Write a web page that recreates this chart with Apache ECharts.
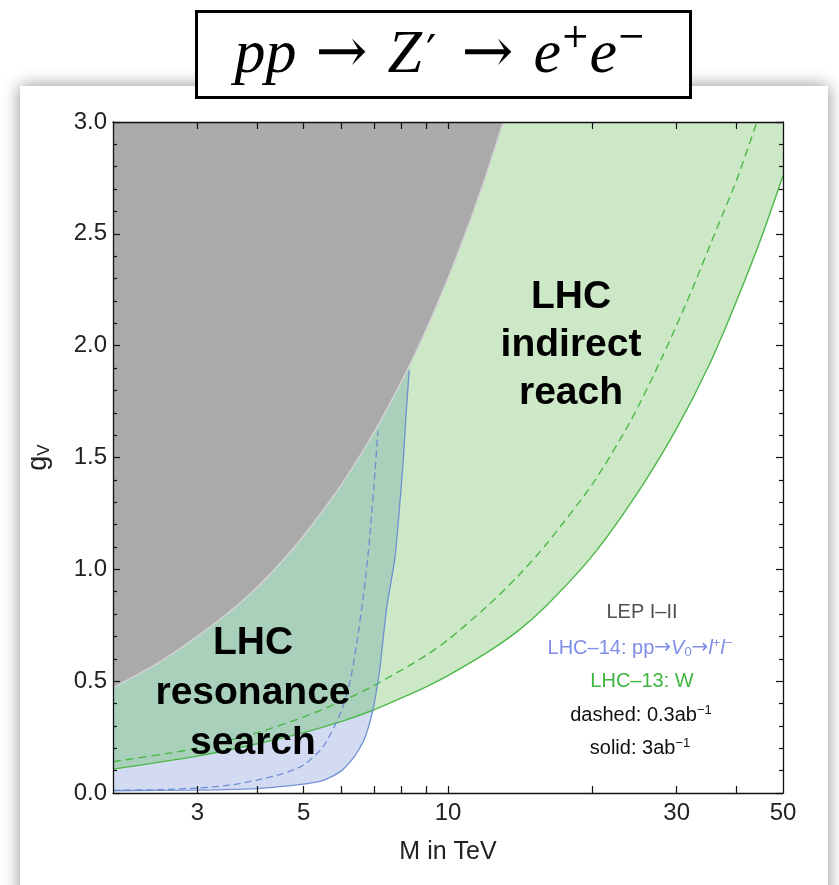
<!DOCTYPE html>
<html><head><meta charset="utf-8">
<script src="https://cdn.jsdelivr.net/npm/echarts@6/dist/echarts.min.js"></script>
<style>html,body{margin:0;padding:0;background:#fff;}#c{width:839px;height:885px;}</style>
</head><body><div id="c"></div>
<script>
// ---- tick labels ----
const xTickLabels = [3, 5, 10, 30, 50];
const xTickMarks = [3, 4, 5, 6, 7, 8, 9, 10, 20, 30, 40];
const yMin = 0, yMax = 3, yStep = 0.5;
const xMin = 2, xMax = 50;

// ---- LEP I-II bound (gray, excluded above) ----
const lepM = [2, 2.5, 3, 3.5, 4, 4.5, 5, 6, 7, 8, 9, 10, 11, 12, 13, 13.05];
const lepG = [0.47, 0.585, 0.70, 0.81, 0.92, 1.035, 1.15, 1.38, 1.61, 1.84, 2.07, 2.30, 2.53, 2.76, 2.99, 3.0];

// ---- LHC-13 W (green), solid 3/ab and dashed 0.3/ab ----
const wSolidM = [2, 3, 4, 5, 6, 6.97, 8, 9, 10, 12, 14, 16, 20, 25, 30, 35, 40, 45, 50];
const wSolidG = [0.107, 0.165, 0.22, 0.27, 0.32, 0.37, 0.425, 0.475, 0.525, 0.625, 0.725, 0.835, 1.06, 1.35, 1.63, 1.91, 2.20, 2.48, 2.76];
const wDashM = [2, 3, 4, 5, 6, 7, 8, 9, 10, 12, 14, 16, 20, 24, 28, 32, 36, 40, 44.1];
const wDashG = [0.14, 0.20, 0.27, 0.34, 0.41, 0.48, 0.55, 0.615, 0.685, 0.83, 0.97, 1.11, 1.38, 1.66, 1.95, 2.23, 2.50, 2.74, 3.0];

// ---- LHC-14 pp -> V0 -> l+l- (blue) ----
const v0SolidM = [2, 3, 4, 4.7, 5.2, 5.55, 6.0, 6.3, 6.5, 6.72, 6.97, 7.2, 7.45, 7.75, 7.88, 8.05, 8.18, 8.3];
const v0SolidG = [0.01, 0.013, 0.02, 0.033, 0.045, 0.06, 0.1, 0.148, 0.19, 0.25, 0.37, 0.55, 0.83, 1.05, 1.22, 1.46, 1.70, 1.89];
const v0DashM = [2, 2.5, 3, 3.5, 4, 4.5, 5, 5.5, 6, 6.25, 6.45, 6.65, 6.85, 7.05, 7.14];
const v0DashG = [0.012, 0.015, 0.022, 0.035, 0.058, 0.085, 0.125, 0.21, 0.37, 0.5, 0.67, 0.87, 1.12, 1.45, 1.62];

// mass where the blue solid curve crosses the green solid curve
const crossM = 6.97;

const C = {
  gray: '#aaaaaa', grayEdge: '#d2d2d2', lgreen: '#cde8c6', teal: '#a8d0bb', lav: '#d3dbf2',
  green: '#4cb848', blue: '#6688d2', axis: '#111', label: '#222'
};
const SANS = 'Liberation Sans, Arial, Helvetica, sans-serif';

function pairs(m, g) { return m.map((v, i) => [v, g[i]]); }

const base = { type: 'line', xAxisIndex: 0, yAxisIndex: 0, showSymbol: false, symbol: 'none',
  silent: true, animation: false, clip: true, smooth: 0.25 };
const noLine = { width: 0, opacity: 0 };

const series = [
  Object.assign({}, base, { name: 'lhc14 region', data: pairs(v0SolidM, v0SolidG), lineStyle: noLine,
    areaStyle: { origin: 'end', color: C.lav, opacity: 1 } }),
  Object.assign({}, base, { name: 'lhc13 region', data: pairs(wSolidM, wSolidG), lineStyle: noLine,
    areaStyle: { origin: 'end', color: C.lgreen, opacity: 1 } }),
  Object.assign({}, base, { name: 'overlap a', data: pairs(wSolidM, wSolidG).filter(p => p[0] <= crossM), lineStyle: noLine,
    areaStyle: { origin: 'end', color: C.teal, opacity: 1 } }),
  Object.assign({}, base, { name: 'overlap b', data: pairs(v0SolidM, v0SolidG).filter(p => p[0] >= crossM), lineStyle: noLine,
    areaStyle: { origin: 'end', color: C.teal, opacity: 1 } }),
  Object.assign({}, base, { name: 'LEP', data: pairs(lepM, lepG), lineStyle: { color: C.grayEdge, width: 1.6 },
    areaStyle: { origin: 'end', color: C.gray, opacity: 1 } }),
  Object.assign({}, base, { name: 'W dashed', data: pairs(wDashM, wDashG), lineStyle: { color: C.green, width: 1.4, type: [8, 5] } }),
  Object.assign({}, base, { name: 'W solid', data: pairs(wSolidM, wSolidG), lineStyle: { color: C.green, width: 1.4 } }),
  Object.assign({}, base, { name: 'V0 dashed', data: pairs(v0DashM, v0DashG), lineStyle: { color: C.blue, width: 1.3, type: [7, 4], opacity: 0.9 } }),
  Object.assign({}, base, { name: 'V0 solid', data: pairs(v0SolidM, v0SolidG), lineStyle: { color: C.blue, width: 1.3, opacity: 0.9 } })
];

function xAxisDef(pos, labels) {
  return {
    type: 'log', logBase: 10, min: xMin, max: xMax, position: pos, z: 10,
    axisLine: { show: true, onZero: false, lineStyle: { color: C.axis, width: 1.3 } },
    axisTick: { show: true, inside: true, length: 7, customValues: xTickMarks, lineStyle: { color: C.axis, width: 1.2 } },
    minorTick: { show: false },
    axisLabel: { show: labels, customValues: xTickLabels, margin: 8, fontSize: 24, color: C.label, fontFamily: SANS },
    splitLine: { show: false }, minorSplitLine: { show: false },
    name: labels ? 'M in TeV' : '', nameLocation: 'middle', nameGap: 47,
    nameTextStyle: { fontSize: 25, color: C.label, fontFamily: SANS }
  };
}
function yAxisDef(pos, labels) {
  return {
    type: 'value', min: yMin, max: yMax, interval: yStep, position: pos, z: 10,
    axisLine: { show: true, onZero: false, lineStyle: { color: C.axis, width: 1.3 } },
    axisTick: { show: true, inside: true, length: 7, lineStyle: { color: C.axis, width: 1.2 } },
    minorTick: { show: true, splitNumber: 5, length: 4, lineStyle: { color: C.axis, width: 1.2 } },
    axisLabel: { show: labels, margin: 6, fontSize: 24, color: C.label, fontFamily: SANS, formatter: v => v.toFixed(1) },
    splitLine: { show: false }, minorSplitLine: { show: false },
    name: labels ? '{g|g}{v|V}' : '', nameLocation: 'middle', nameRotate: 90, nameGap: 60,
    nameTextStyle: { rich: {
      g: { fontSize: 27, color: C.label, fontFamily: SANS, lineHeight: 28, verticalAlign: 'middle' },
      v: { fontSize: 17, color: C.label, fontFamily: SANS, lineHeight: 12, verticalAlign: 'bottom' } } }
  };
}

const serif = 'Liberation Serif, DejaVu Serif, serif';
const graphic = [
  { type: 'rect', z: -1, silent: true, shape: { x: 20, y: 86, width: 808, height: 830 },
    style: { fill: '#fff', shadowBlur: 16, shadowColor: 'rgba(0,0,0,0.45)' } },
  { type: 'rect', z: 50, silent: true, shape: { x: 196.5, y: 11.5, width: 494, height: 86 },
    style: { fill: '#fff', stroke: '#000', lineWidth: 3 } },
  { type: 'text', z: 51, silent: true, x: 440, y: 56,
    style: { text: '{i|pp}{a|→}{z|Z}{p|′}{a|→}{i|e}{s|+}{i|e}{s|−}', align: 'center', verticalAlign: 'middle',
      rich: {
        i: { fontSize: 62, fontStyle: 'italic', fontFamily: serif, fill: '#000', lineHeight: 70, verticalAlign: 'middle' },
        z: { fontSize: 62, fontStyle: 'italic', fontFamily: serif, fill: '#000', lineHeight: 70, verticalAlign: 'middle', padding: [0, 4, 0, 0] },
        a: { fontSize: 62, fontFamily: 'DejaVu Serif, serif', fill: '#000', lineHeight: 70, verticalAlign: 'middle', padding: [0, 20, 0, 19] },
        p: { fontSize: 46, fontFamily: 'DejaVu Serif, serif', fill: '#000', lineHeight: 40, verticalAlign: 'middle', padding: [0, 6, 0, 0] },
        s: { fontSize: 34, fontFamily: 'DejaVu Serif, serif', fill: '#000', lineHeight: 8, verticalAlign: 'top' }
      } } },
  { type: 'text', z: 40, silent: true, x: 571, y: 345,
    style: { text: 'LHC\nindirect\nreach', align: 'center', verticalAlign: 'middle', fill: '#000',
      fontSize: 39, fontWeight: 'bold', fontFamily: SANS, lineHeight: 48 } },
  { type: 'text', z: 40, silent: true, x: 253, y: 693,
    style: { text: 'LHC\nresonance\nsearch', align: 'center', verticalAlign: 'middle', fill: '#000',
      fontSize: 39, fontWeight: 'bold', fontFamily: SANS, lineHeight: 50 } },
  { type: 'text', z: 40, silent: true, x: 642, y: 612,
    style: { text: 'LEP I–II', align: 'center', verticalAlign: 'middle', fill: '#505050', fontSize: 20, fontFamily: SANS } },
  { type: 'text', z: 40, silent: true, x: 640, y: 648,
    style: { text: '{n|LHC–14: pp}{a|→}{i|V}{b|0}{a|→}{i|l}{t|+}{i|l}{t|−}', align: 'center', verticalAlign: 'middle',
      rich: {
        n: { fontSize: 20, fontFamily: SANS, fill: '#7f8ee6', lineHeight: 22, verticalAlign: 'middle' },
        a: { fontSize: 20, fontFamily: 'DejaVu Sans, sans-serif', fill: '#7f8ee6', lineHeight: 22, verticalAlign: 'middle' },
        i: { fontSize: 20, fontFamily: SANS, fontStyle: 'italic', fill: '#7f8ee6', lineHeight: 22, verticalAlign: 'middle' },
        b: { fontSize: 13, fontFamily: SANS, fill: '#7f8ee6', lineHeight: 12, verticalAlign: 'bottom' },
        t: { fontSize: 13, fontFamily: SANS, fill: '#7f8ee6', lineHeight: 10, verticalAlign: 'top' }
      } } },
  { type: 'text', z: 40, silent: true, x: 642, y: 681,
    style: { text: 'LHC–13: W', align: 'center', verticalAlign: 'middle', fill: '#3fb53f', fontSize: 20, fontFamily: SANS } },
  { type: 'text', z: 40, silent: true, x: 641, y: 715,
    style: { text: '{n|dashed: 0.3ab}{t|−1}', align: 'center', verticalAlign: 'middle',
      rich: {
        n: { fontSize: 20, fontFamily: SANS, fill: '#111', lineHeight: 22, verticalAlign: 'middle' },
        t: { fontSize: 13, fontFamily: SANS, fill: '#111', lineHeight: 10, verticalAlign: 'top' }
      } } },
  { type: 'text', z: 40, silent: true, x: 640, y: 748,
    style: { text: '{n|solid: 3ab}{t|−1}', align: 'center', verticalAlign: 'middle',
      rich: {
        n: { fontSize: 20, fontFamily: SANS, fill: '#111', lineHeight: 22, verticalAlign: 'middle' },
        t: { fontSize: 13, fontFamily: SANS, fill: '#111', lineHeight: 10, verticalAlign: 'top' }
      } } }
];

const chart = echarts.init(document.getElementById('c'), null, { renderer: 'canvas' });
chart.setOption({
  backgroundColor: '#fff',
  animation: false,
  grid: { left: 113, right: 56, top: 122, bottom: 92, containLabel: false },
  xAxis: [xAxisDef('bottom', true), xAxisDef('top', false)],
  yAxis: [yAxisDef('left', true), yAxisDef('right', false)],
  series: series,
  graphic: graphic
});
</script></body></html>
